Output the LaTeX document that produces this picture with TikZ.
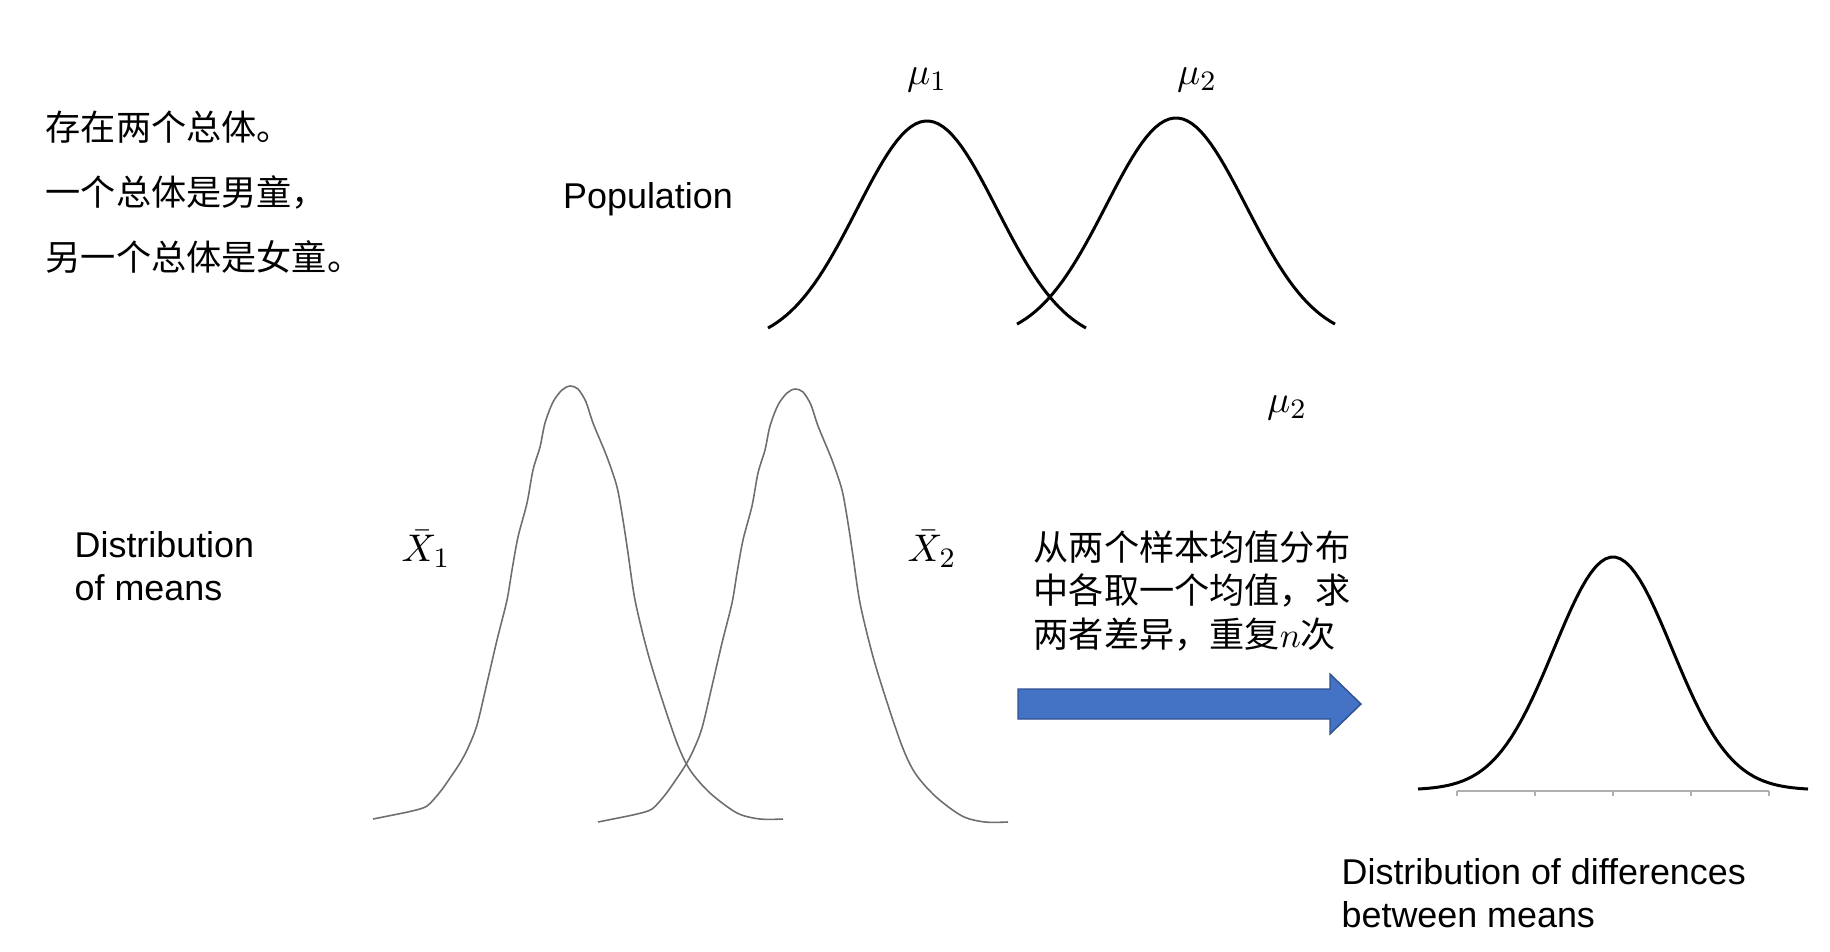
\documentclass[tikz,border=0pt]{standalone}
\usepackage{fontspec}
\setmainfont{Liberation Sans}
\newfontfamily\cjk{Noto Sans CJK SC}
\usepackage{xcolor}
\usepackage{tikz}
\usetikzlibrary{positioning}
\definecolor{arrowblue}{RGB}{68, 114, 196}
\definecolor{arrowedge}{RGB}{47, 82, 143}
\definecolor{meangray}{RGB}{110, 110, 110}
\definecolor{axisgray}{RGB}{175, 175, 175}

\begin{document}
\begin{tikzpicture}[
    x=0.01cm, y=-0.01cm,
    label/.style={inner sep=0pt, font=\fontsize{10.2}{12.4}\selectfont, align=left},
    cjklabel/.style={inner sep=0pt, font=\fontsize{10}{12.4}\selectfont\cjk, align=left},
    mathlabel/.style={inner sep=0pt, font=\fontsize{11}{13}\selectfont},
    popcurve/.style={line width=0.85pt, black},
    meancurve/.style={line width=0.45pt, meangray},
    axisline/.style={line width=0.5pt, axisgray}
]
\useasboundingbox (0,0) rectangle (1830,951);

% Introduction text
\node[cjklabel, font=\fontsize{10}{18.5}\selectfont\cjk, anchor=west] (intro) at (45,192)
    {存在两个总体。\\一个总体是男童，\\另一个总体是女童。};

% Population distributions
\node[label] (poplabel) at (648,199) {Population};
\node[mathlabel] (mu1) at (927,80) {$\mu_1$};
\node[mathlabel] (mu2) at (1197,80) {$\mu_2$};
\draw[popcurve] plot[domain=-159:159, samples=70]
    ({927+\x}, {345-224*exp(-0.5*(\x/70)*(\x/70))});
\draw[popcurve] plot[domain=-159:159, samples=70]
    ({1176+\x}, {341-223*exp(-0.5*(\x/70)*(\x/70))});
\node[mathlabel] (mu2b) at (1287,408) {$\mu_2$};

% Distributions of means
\node[label, anchor=west] (meanslabel) at (74,566) {Distribution\\of means};
\node[mathlabel] (xbar1) at (426,549) {$\bar{X}_1$};
\node[mathlabel] (xbar2) at (932,549) {$\bar{X}_2$};
\draw[meancurve] plot[smooth, tension=0.5] coordinates {
    (373,819) (393,815) (412,811) (427,806) (440,792) (450,778) (460,763)
    (468,748) (477,725) (487,683) (497,640) (507,600) (512,570) (518,537)
    (527,503) (533,470) (540,447) (545,423) (553,402) (562,390) (570,386)
    (578,389) (586,402) (593,423) (607,457) (617,487) (623,520) (628,553)
    (635,600) (647,650) (660,693) (677,743) (690,770) (710,793) (737,813)
    (760,819) (783,819)};
\draw[meancurve, shift={(225,3)}] plot[smooth, tension=0.5] coordinates {
    (373,819) (393,815) (412,811) (427,806) (440,792) (450,778) (460,763)
    (468,748) (477,725) (487,683) (497,640) (507,600) (512,570) (518,537)
    (527,503) (533,470) (540,447) (545,423) (553,402) (562,390) (570,386)
    (578,389) (586,402) (593,423) (607,457) (617,487) (623,520) (628,553)
    (635,600) (647,650) (660,693) (677,743) (690,770) (710,793) (737,813)
    (760,819) (783,819)};

% Sampling step and block arrow
\node[cjklabel, anchor=west] (steptext) at (1033,591)
    {从两个样本均值分布\\中各取一个均值，求\\两者差异，重复$n$次};
\draw[fill=arrowblue, draw=arrowedge, line width=0.4pt]
    (1018,689) -- (1330,689) -- (1330,674) -- (1361,704)
    -- (1330,734) -- (1330,719) -- (1018,719) -- cycle;

% Distribution of differences
\draw[axisline] (1457,791) -- (1769,791)
    (1457,791) -- ++(0,5) (1535,791) -- ++(0,5) (1613,791) -- ++(0,5)
    (1691,791) -- ++(0,5) (1769,791) -- ++(0,5);
\draw[popcurve] plot[domain=-195:195, samples=80]
    ({1613+\x}, {790-233*exp(-0.5*(\x/59)*(\x/59))});
\node[label, anchor=west] (difflabel) at (1341,893)
    {Distribution of differences\\between means};
\end{tikzpicture}
\end{document}
